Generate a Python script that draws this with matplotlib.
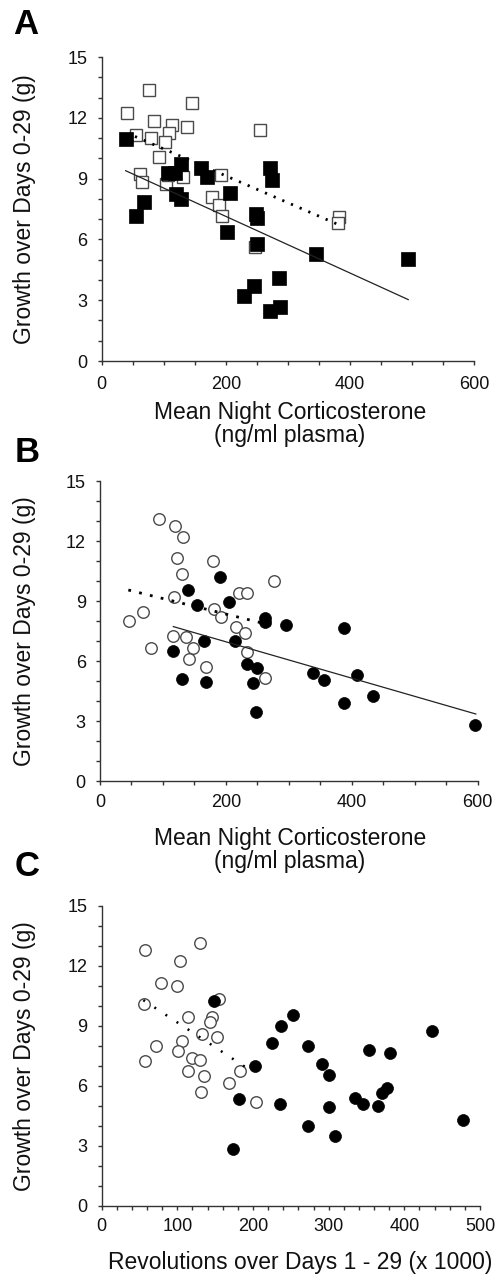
import matplotlib
matplotlib.use("Agg")
import matplotlib.pyplot as plt
from matplotlib.ticker import MultipleLocator

plt.rcParams['font.family'] = ['Liberation Sans', 'DejaVu Sans']

# ---------------- Panel A data (squares) ----------------
a_open_x = [41, 76.6, 145.7, 84, 137, 114, 109, 55, 80, 102, 91.6, 255, 61, 65,
            103, 107, 131, 192, 178, 189, 194, 247, 382, 381]
a_open_y = [12.23, 13.38, 12.72, 11.85, 11.55, 11.64, 11.27, 11.13, 10.99, 10.83,
            10.09, 11.42, 9.23, 8.85, 8.74, 9.18, 9.10, 9.18, 8.11, 7.70, 7.17,
            5.64, 7.12, 6.82]
a_fill_x = [38.6, 54.6, 67.5, 107, 118, 127, 120, 127, 160, 170, 207, 202, 249,
            250, 251, 272, 275, 229, 246, 271, 288, 286, 346, 494]
a_fill_y = [10.96, 7.17, 7.86, 9.30, 9.26, 9.72, 8.26, 7.99, 9.51, 9.10, 8.27,
            6.38, 7.25, 7.07, 5.77, 9.51, 8.93, 3.23, 3.69, 2.47, 2.67, 4.09,
            5.26, 5.01]
a_fit_open_x = [53.6, 383]
a_fit_open_y = [11.08, 6.71]
a_fit_fill_x = [38.6, 494]
a_fit_fill_y = [9.39, 3.03]

# ---------------- Panel B data (circles) ----------------
b_open_x = [46, 68.8, 81, 93.7, 118.6, 132, 123, 131, 117, 115.4, 136, 147, 141,
            169, 180, 180.6, 192.8, 221, 234, 277, 216.6, 229.8, 234, 262.7]
b_open_y = [8.02, 8.43, 6.67, 13.10, 12.77, 12.22, 11.13, 10.35, 9.18, 7.25, 7.22,
            6.67, 6.10, 5.68, 10.98, 8.60, 8.22, 9.40, 9.40, 10.02, 7.72, 7.42,
            6.47, 5.17]
b_fill_x = [115.4, 129.7, 139, 154.6, 165, 168.4, 190.6, 204.4, 215, 233, 243.6,
            249.4, 247.3, 262, 262, 295.5, 337.8, 355.8, 387, 387, 407.7, 434,
            595.8]
b_fill_y = [6.50, 5.08, 9.55, 8.78, 6.98, 4.97, 10.22, 8.95, 6.98, 5.83, 4.88,
            5.63, 3.43, 8.13, 7.93, 7.80, 5.42, 5.07, 7.63, 3.92, 5.30, 4.25,
            2.78]
b_fit_open_x = [45, 280.7]
b_fit_open_y = [9.55, 7.72]
b_fit_fill_x = [116.5, 597]
b_fit_fill_y = [7.72, 3.35]

# ---------------- Panel C data (circles) ----------------
c_open_x = [57.7, 130, 104, 78.4, 99, 56, 154.6, 114.5, 145.8, 143, 132, 152,
            106.6, 71.8, 101.3, 57.7, 119, 130, 114, 135, 182.8, 168, 131.7, 204]
c_open_y = [12.80, 13.12, 12.22, 11.12, 11.00, 10.07, 10.35, 9.42, 9.45, 9.17,
            8.58, 8.45, 8.25, 8.00, 7.73, 7.22, 7.40, 7.27, 6.75, 6.48, 6.75,
            6.12, 5.68, 5.18]
c_fill_x = [149, 174, 181, 202.6, 225, 237, 253, 235.7, 272.7, 272.7, 290.7,
            300.4, 300.4, 308.8, 334.8, 345.8, 353.7, 364.8, 370, 376.7, 381,
            437, 477]
c_fill_y = [10.25, 2.82, 5.35, 6.97, 8.15, 9.00, 9.53, 5.10, 7.98, 3.98, 7.07,
            6.53, 4.92, 3.50, 5.40, 5.07, 7.78, 4.98, 5.65, 5.87, 7.62, 8.75,
            4.28]
c_fit_open_x = [55, 196]
c_fit_open_y = [10.28, 6.78]

y_label = "Growth over Days 0-29 (g)"
xlabel_ab = "Mean Night Corticosterone\n(ng/ml plasma)"
xlabel_c = "Revolutions over Days 1 - 29 (x 1000)"

W, H = 499, 1278
fig = plt.figure(figsize=(W / 100, H / 100), dpi=100)


def px_axes(left, right, top, bottom):
    return fig.add_axes([left / W, 1 - bottom / H, (right - left) / W, (bottom - top) / H])


def style(ax, xmax, xmajor, xminor, xpad):
    ax.set_xlim(0, xmax)
    ax.set_ylim(0, 15)
    for s in ['top', 'right']:
        ax.spines[s].set_visible(False)
    for s in ['left', 'bottom']:
        ax.spines[s].set_linewidth(1.0)
        ax.spines[s].set_color('#333333')
    ax.xaxis.set_major_locator(MultipleLocator(xmajor))
    ax.xaxis.set_minor_locator(MultipleLocator(xminor))
    ax.yaxis.set_major_locator(MultipleLocator(3))
    ax.yaxis.set_minor_locator(MultipleLocator(1))
    ax.tick_params(axis='both', which='both', direction='out', length=3.2,
                   width=1.0, color='#333333', labelsize=13, labelcolor='#111111')
    ax.tick_params(axis='x', which='major', pad=xpad)
    ax.tick_params(axis='y', which='major', pad=7)


open_kw = dict(linestyle='none', markerfacecolor='white', markeredgecolor='#4a4a4a',
               clip_on=False, zorder=3)
fill_kw = dict(linestyle='none', color='black', clip_on=False, zorder=4)

# ---------------- Panel A ----------------
axA = px_axes(101.7, 474, 57, 361)
style(axA, 600, 200, 50, 7.5)
axA.plot(a_open_x, a_open_y, marker='s', markersize=9.2, markeredgewidth=1.0, **open_kw)
axA.plot(a_fill_x, a_fill_y, marker='s', markersize=9.6, markeredgewidth=0.5, **fill_kw)
axA.plot(a_fit_open_x, a_fit_open_y, color='black', lw=2.0, dashes=(0.8, 2.6),
         zorder=5, dash_capstyle='butt')
axA.plot(a_fit_fill_x, a_fit_fill_y, color='#222222', lw=0.9, zorder=5)

# ---------------- Panel B ----------------
axB = px_axes(100, 477.7, 481, 781)
style(axB, 600, 200, 50, 6)
axB.plot(b_open_x, b_open_y, marker='o', markersize=8.3, markeredgewidth=1.0, **open_kw)
axB.plot(b_fill_x, b_fill_y, marker='o', markersize=8.6, markeredgewidth=0.5, **fill_kw)
axB.plot(b_fit_open_x, b_fit_open_y, color='black', lw=2.0, dashes=(1.0, 3.0),
         zorder=5, dash_capstyle='butt')
axB.plot(b_fit_fill_x, b_fit_fill_y, color='#222222', lw=0.9, zorder=5)

# ---------------- Panel C ----------------
axC = px_axes(101.7, 480, 905.7, 1205.7)
style(axC, 500, 100, 20, 6)
axC.plot(c_open_x, c_open_y, marker='o', markersize=8.3, markeredgewidth=1.0, **open_kw)
axC.plot(c_fill_x, c_fill_y, marker='o', markersize=8.6, markeredgewidth=0.5, **fill_kw)
axC.plot(c_fit_open_x, c_fit_open_y, color='black', lw=1.8, dashes=(0.8, 4.5),
         zorder=5, dash_capstyle='butt')

# ---------------- Labels ----------------
lab_fs = 16.5
for ax, top, bot in [(axA, 57, 361), (axB, 481, 781), (axC, 905.7, 1205.7)]:
    fig.text(25 / W, 1 - ((top + bot) / 2) / H, y_label, rotation=90,
             ha='center', va='center', fontsize=lab_fs, color='#111111')

fig.text(290 / W, 1 - 424 / H, xlabel_ab, ha='center', va='center',
         fontsize=lab_fs, linespacing=1.05, color='#111111')
fig.text(290 / W, 1 - 850 / H, xlabel_ab, ha='center', va='center',
         fontsize=lab_fs, linespacing=1.05, color='#111111')
fig.text(300 / W, 1 - 1262 / H, xlabel_c, ha='center', va='center',
         fontsize=lab_fs, color='#111111')

for lbl, x, y in [('A', 13, 25), ('B', 15, 452), ('C', 15, 866)]:
    fig.text(x / W, 1 - y / H, lbl, ha='left', va='center', fontsize=25,
             fontweight='bold', color='black')

fig.savefig('out.png', dpi=100)
